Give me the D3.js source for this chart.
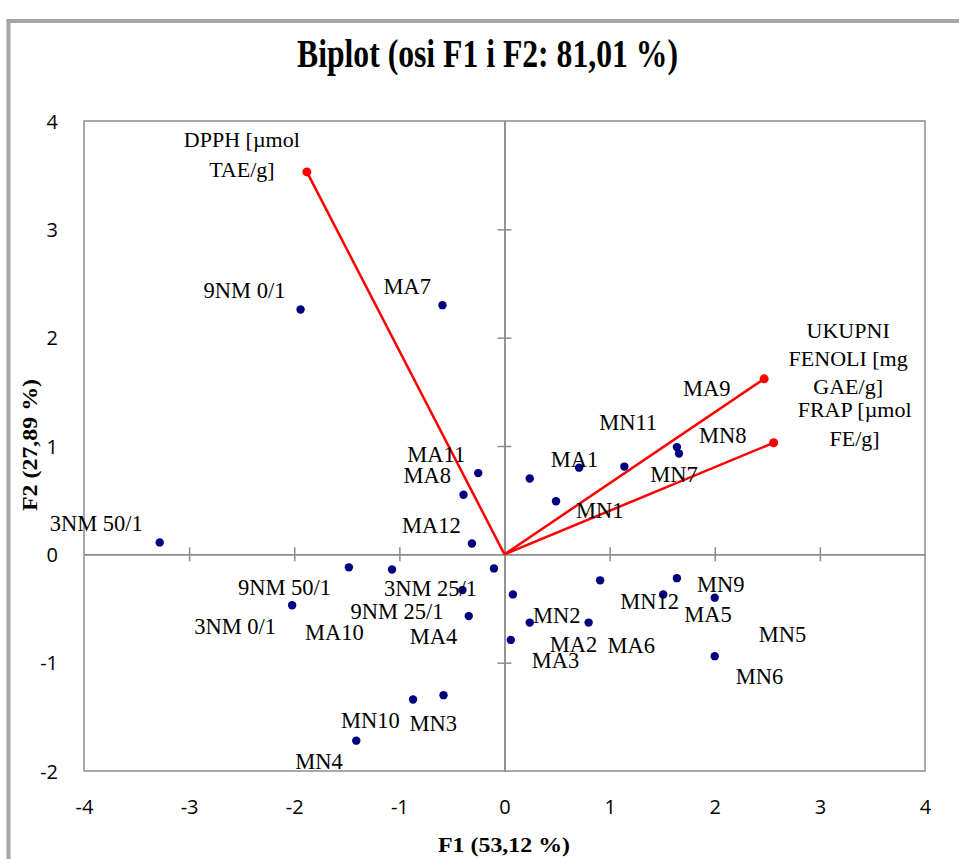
<!DOCTYPE html>
<html><head><meta charset="utf-8">
<script src="https://cdn.jsdelivr.net/npm/d3@7"></script>
<style>html,body{margin:0;padding:0;background:#fff;}svg{display:block;}</style>
</head><body>
<script>
// ---- data ----
const obsNames = ["9NM 0/1","MA7","3NM 50/1","MA11","MA8","MA12","MA1","MN11","MN7","MN1","MA9","MN8",
  "9NM 50/1","MA10","3NM 25/1","9NM 25/1","MN2","3NM 0/1","MA4","MA2","MA3","MN10","MN3","MN4",
  "MN12","MN9","MA5","MN5","MA6","MN6"];
const obsF1 = [-1.94,-0.59,-3.28,-0.25,-0.39,-0.31,0.24,0.71,1.14,0.49,1.64,1.66,
  -1.48,-1.07,-0.10,-0.40,0.08,-2.02,-0.34,0.24,0.06,-0.87,-0.58,-1.41,
  0.91,1.64,1.51,2.00,0.80,2.00];
const obsF2 = [2.26,2.30,0.11,0.75,0.55,0.10,0.70,0.80,0.81,0.49,0.99,0.93,
  -0.12,-0.14,-0.13,-0.33,-0.37,-0.47,-0.57,-0.63,-0.79,-1.34,-1.30,-1.72,
  -0.24,-0.22,-0.37,-0.40,-0.63,-0.94];
const varNames = [["DPPH [µmol","TAE/g]"],["UKUPNI","FENOLI [mg","GAE/g]"],["FRAP [µmol","FE/g]"]];
const varF1 = [-1.88, 2.47, 2.56];
const varF2 = [3.53, 1.62, 1.03];
const xTicks = [-4,-3,-2,-1,0,1,2,3,4];
const yTicks = [-2,-1,0,1,2,3,4];
const titleText = "Biplot (osi F1 i F2: 81,01 %)";
const xTitle = "F1 (53,12 %)";
const yTitle = "F2 (27,89 %)";

// ---- layout (label offsets in px from the mark) ----
const obsLabelOffset = [[-97,-12],[-59,-11],[-110,-11],[-71,-11],[-60,-12],[-70,-11],[21,-12],[20,-38],[26,15],[20,17],[6,-51],[20,-11],
  [-111,28],[-87,70],[-110,28],[-112,29],[20,29],[-98,29],[-59,28],[20,29],[21,28],[-72,28],[-34,36],[-61,28],
  [20,29],[20,14],[21,28],[44,44],[19,30],[21,28]];
const varLabelOffset = [[-65,-25],[84,-41],[81,-26]];
const varLineGap = [30, 28, 29];

const W = 959, H = 859;
const svg = d3.select("body").append("svg").attr("width", W).attr("height", H);
const serif = "'Liberation Serif','Times New Roman',serif";
const sans = "'Open Sans','Liberation Sans',sans-serif";

// outer frame
svg.append("line").attr("x1",8.5).attr("x2",8.5).attr("y1",19).attr("y2",H).attr("stroke","#a6a6a6").attr("stroke-width",4);
svg.append("line").attr("x1",6.5).attr("x2",W).attr("y1",21).attr("y2",21).attr("stroke","#a6a6a6").attr("stroke-width",4);

const x = d3.scaleLinear().domain([-4,4]).range([84,925]);
const y = d3.scaleLinear().domain([-2,4]).range([771,121]);

// plot frame
svg.append("rect").attr("x",x(-4)).attr("y",y(4)).attr("width",x(4)-x(-4)).attr("height",y(-2)-y(4))
  .attr("fill","none").attr("stroke","#8c8c8c").attr("stroke-width",1.5);

// crossing axes through origin
const axColor = "#8c8c8c";
function styleAxis(g){ g.select(".domain").attr("stroke",axColor).attr("stroke-width",1.5);
  g.selectAll(".tick line").attr("stroke",axColor).attr("stroke-width",1.5); g.selectAll("text").remove(); }
const innerX = xTicks.filter(v=>v!==0&&Math.abs(v)!==4);
const innerY = yTicks.filter(v=>v!==0&&v!==4&&v!==-2);
svg.append("g").attr("transform",`translate(0,${y(0)})`).call(d3.axisBottom(x).tickValues(innerX).tickSizeInner(7).tickSizeOuter(0)).call(styleAxis);
svg.append("g").attr("transform",`translate(0,${y(0)})`).call(d3.axisTop(x).tickValues(innerX).tickSizeInner(7).tickSizeOuter(0)).call(styleAxis);
svg.append("g").attr("transform",`translate(${x(0)},0)`).call(d3.axisLeft(y).tickValues(innerY).tickSizeInner(7).tickSizeOuter(0)).call(styleAxis);
svg.append("g").attr("transform",`translate(${x(0)},0)`).call(d3.axisRight(y).tickValues(innerY).tickSizeInner(7).tickSizeOuter(0)).call(styleAxis);

// tick labels (plain hyphen minus, as in the reference)
const fmt = d => String(d);
const gx = svg.append("g").attr("transform",`translate(0,${y(-2)})`).call(d3.axisBottom(x).tickValues(xTicks).tickSize(0).tickFormat(fmt));
gx.select(".domain").remove();
gx.selectAll("text").attr("y",43).attr("dy",0).attr("font-family",sans).attr("font-size",20).attr("fill","#000");
const gy = svg.append("g").attr("transform",`translate(${x(-4)},0)`).call(d3.axisLeft(y).tickValues(yTicks).tickSize(0).tickPadding(26).tickFormat(fmt));
gy.select(".domain").remove();
gy.selectAll("text").attr("dy","0.36em").attr("font-family",sans).attr("font-size",20).attr("fill","#000");

// vectors
const vars = varF1.map((v,i)=>({f1:v,f2:varF2[i],lines:varNames[i],off:varLabelOffset[i],gap:varLineGap[i]}));
svg.append("g").selectAll("line").data(vars).join("line")
  .attr("x1",x(0)).attr("y1",y(0)).attr("x2",d=>x(d.f1)).attr("y2",d=>y(d.f2))
  .attr("stroke","#ff0000").attr("stroke-width",2.5);
svg.append("g").selectAll("circle").data(vars).join("circle")
  .attr("cx",d=>x(d.f1)).attr("cy",d=>y(d.f2)).attr("r",4.5).attr("fill","#ff0000");
const vl = svg.append("g").selectAll("text").data(vars).join("text")
  .attr("font-family",serif).attr("font-size",22).attr("text-anchor","middle").attr("fill","#000");
vl.each(function(d){
  const t = d3.select(this);
  d.lines.forEach((ln,k)=>{
    t.append("tspan").attr("x",x(d.f1)+d.off[0]).attr("y",y(d.f2)+d.off[1]+k*d.gap).text(ln);
  });
});

// observations
const obs = obsNames.map((n,i)=>({name:n,f1:obsF1[i],f2:obsF2[i],off:obsLabelOffset[i]}));
svg.append("g").selectAll("circle").data(obs).join("circle")
  .attr("cx",d=>x(d.f1)).attr("cy",d=>y(d.f2)).attr("r",4.2).attr("fill","#000080");
svg.append("g").selectAll("text").data(obs).join("text")
  .attr("x",d=>x(d.f1)+d.off[0]).attr("y",d=>y(d.f2)+d.off[1])
  .attr("font-family",serif).attr("font-size",22.5).attr("fill","#000").text(d=>d.name);

// titles
svg.append("text").attr("x",487.5).attr("y",67).attr("text-anchor","middle")
  .attr("font-family",serif).attr("font-weight","bold").attr("font-size",39)
  .attr("textLength",381).attr("lengthAdjust","spacingAndGlyphs").text(titleText);
svg.append("text").attr("x",504).attr("y",852).attr("text-anchor","middle")
  .attr("font-family",serif).attr("font-weight","bold").attr("font-size",21)
  .attr("textLength",132).attr("lengthAdjust","spacingAndGlyphs").text(xTitle);
svg.append("text").attr("transform","translate(37,445) rotate(-90)").attr("text-anchor","middle")
  .attr("font-family",serif).attr("font-weight","bold").attr("font-size",21)
  .attr("textLength",132).attr("lengthAdjust","spacingAndGlyphs").text(yTitle);
</script>
</body></html>
